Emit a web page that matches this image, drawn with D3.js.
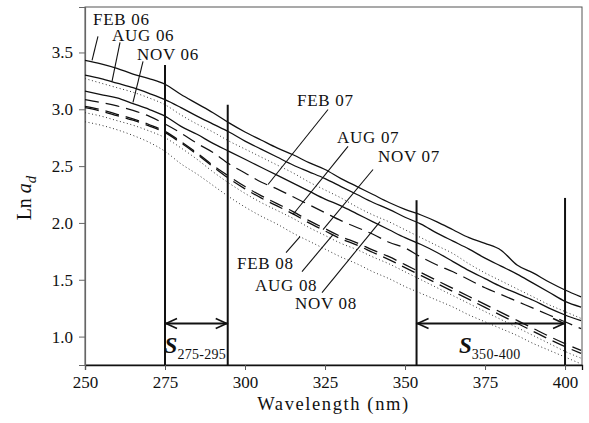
<!DOCTYPE html>
<html>
<head>
<meta charset="utf-8">
<script src="https://cdn.jsdelivr.net/npm/d3@7/dist/d3.min.js"></script>
<style>
  html, body { margin: 0; padding: 0; background: #fff; }
  svg { display: block; }
  svg text { font-family: "Liberation Serif", "DejaVu Serif", "Times New Roman", Times, serif; fill: #111; }
</style>
</head>
<body>
<svg id="chart" width="589" height="423"></svg>
<script>
// Wavelength grid (nm) shared by every spectrum
const wavelengths = [250,255,260,265,270,275,280,285,290,295,300,305,310,315,320,325,330,335,340,345,350,355,360,365,370,375,380,385,390,395,400,405];

// Ln a_d for each sampling campaign
const feb06 = [3.43,3.40,3.36,3.31,3.27,3.22,3.13,3.05,2.97,2.88,2.80,2.73,2.66,2.60,2.53,2.47,2.39,2.32,2.25,2.18,2.12,2.07,2.01,1.94,1.87,1.82,1.76,1.63,1.56,1.48,1.41,1.35];
const aug06 = [3.30,3.27,3.23,3.19,3.14,3.085,3.015,2.94,2.87,2.80,2.72,2.65,2.58,2.51,2.45,2.39,2.32,2.25,2.18,2.12,2.05,1.99,1.91,1.84,1.77,1.69,1.62,1.55,1.47,1.39,1.31,1.26];
const nov06 = [3.16,3.13,3.10,3.05,3.00,2.94,2.85,2.78,2.70,2.63,2.56,2.49,2.42,2.35,2.28,2.21,2.15,2.08,2.01,1.94,1.87,1.81,1.74,1.66,1.58,1.51,1.44,1.38,1.32,1.25,1.19,1.14];
const feb07 = [3.085,3.06,3.03,2.99,2.94,2.87,2.79,2.70,2.62,2.52,2.44,2.36,2.30,2.23,2.16,2.09,2.02,1.96,1.90,1.83,1.78,1.70,1.63,1.57,1.50,1.43,1.37,1.31,1.25,1.19,1.13,1.07];
const aug07 = [3.026,2.996,2.956,2.916,2.866,2.806,2.716,2.616,2.506,2.41,2.32,2.24,2.17,2.10,2.02,1.95,1.88,1.825,1.76,1.703,1.633,1.563,1.493,1.423,1.353,1.283,1.213,1.143,1.073,1.003,0.938,0.878];
const nov07 = [3.014,2.984,2.944,2.904,2.854,2.794,2.704,2.604,2.494,2.39,2.30,2.22,2.15,2.08,2.00,1.93,1.86,1.805,1.74,1.677,1.607,1.537,1.467,1.397,1.327,1.257,1.187,1.117,1.047,0.977,0.912,0.852];
const feb08 = [2.89,2.86,2.82,2.77,2.71,2.63,2.52,2.43,2.33,2.23,2.14,2.06,1.99,1.91,1.84,1.77,1.70,1.64,1.57,1.51,1.44,1.38,1.32,1.26,1.19,1.13,1.07,1.01,0.94,0.88,0.82,0.76];
const aug08 = [2.97,2.94,2.90,2.86,2.81,2.75,2.66,2.56,2.45,2.35,2.26,2.18,2.11,2.04,1.96,1.89,1.82,1.765,1.70,1.64,1.57,1.50,1.43,1.36,1.29,1.22,1.15,1.08,1.01,0.94,0.87,0.81];
const nov08 = [3.27,3.23,3.19,3.15,3.10,3.04,2.95,2.87,2.80,2.72,2.65,2.58,2.51,2.44,2.36,2.29,2.22,2.14,2.07,2.01,1.94,1.87,1.80,1.73,1.64,1.56,1.49,1.42,1.35,1.28,1.22,1.16];

// Axis ticks
const xTicks = [250,275,300,325,350,375,400];
const yTicks = [1.0,1.5,2.0,2.5,3.0,3.5];

// Spectral slope ranges (nm): start, end, top of each marker line
const slopeRanges = [
  {sub: "275-295", from: 275, to: 294.6, topFrom: 3.39, topTo: 3.04},
  {sub: "350-400", from: 353.6, to: 400, topFrom: 2.20, topTo: 2.22}
];
const arrowLevel = 1.115;

const series = [
  {name: "FEB 06", values: feb06, kind: "solid"},
  {name: "AUG 06", values: aug06, kind: "solid"},
  {name: "NOV 06", values: nov06, kind: "solid"},
  {name: "FEB 07", values: feb07, kind: "dash"},
  {name: "AUG 07", values: aug07, kind: "heavy"},
  {name: "NOV 07", values: nov07, kind: "heavy"},
  {name: "FEB 08", values: feb08, kind: "dot"},
  {name: "AUG 08", values: aug08, kind: "dot"},
  {name: "NOV 08", values: nov08, kind: "dot"}
];

// Label anchors and leader lines, in data units (nm, Ln a_d)
const callouts = [
  {name: "FEB 06", at: [252.5, 3.746], from: [254.06, 3.641], to: [252.19, 3.430]},
  {name: "AUG 06", at: [258.44, 3.597], from: [260.94, 3.588], to: [258.44, 3.245]},
  {name: "NOV 06", at: [266.25, 3.430], from: [268.13, 3.421], to: [265.0, 3.060]},
  {name: "FEB 07", at: [316.25, 3.033], from: [325.94, 2.998], to: [307.19, 2.338]},
  {name: "AUG 07", at: [328.75, 2.699], from: [332.19, 2.673], to: [315.0, 2.074]},
  {name: "NOV 07", at: [341.56, 2.532], from: [340.0, 2.470], to: [324.38, 1.942]},
  {name: "FEB 08", at: [297.5, 1.599], from: [312.81, 1.739], to: [317.19, 1.880]},
  {name: "AUG 08", at: [303.13, 1.405], from: [317.81, 1.572], to: [327.5, 1.898]},
  {name: "NOV 08", at: [315.63, 1.246], from: [324.06, 1.387], to: [342.19, 2.012]}
];

const styles = {
  solid: {width: 1.3, dash: null, color: "#111"},
  dash:  {width: 1.2, dash: "14,7", color: "#111"},
  heavy: {width: 1.3, dash: "14,7", color: "#111"},
  dot:   {width: 1.0, dash: "1,2.6", color: "#333"}
};

const serif = "Liberation Serif, DejaVu Serif, Times New Roman, serif";
const svg = d3.select("#chart");
const margin = {left: 85, right: 7, top: 7, bottom: 58};
const W = 589, H = 423;

const x = d3.scaleLinear().domain([250, 405.3]).range([margin.left, W - margin.right]);
const y = d3.scaleLinear().domain([0.75, 3.9]).range([H - margin.bottom, margin.top]);

// Frame
svg.append("rect")
  .attr("x", x.range()[0]).attr("y", y.range()[1])
  .attr("width", x.range()[1] - x.range()[0])
  .attr("height", y.range()[0] - y.range()[1])
  .attr("fill", "none").attr("stroke", "#555").attr("stroke-width", 1);

// Axes
const xAxis = svg.append("g")
  .attr("transform", `translate(0,${y.range()[0]})`)
  .call(d3.axisBottom(x).tickValues(xTicks).tickSize(5).tickPadding(6).tickFormat(d3.format("d")));
const yAxis = svg.append("g")
  .attr("transform", `translate(${x.range()[0]},0)`)
  .call(d3.axisLeft(y).tickValues(yTicks).tickSize(6).tickPadding(6).tickFormat(d3.format(".1f")));

xAxis.attr("font-family", serif);
yAxis.attr("font-family", serif);
xAxis.select(".domain").attr("stroke", "#111").attr("stroke-width", 1.3);
yAxis.select(".domain").attr("stroke", "#666").attr("stroke-width", 1.2);
xAxis.selectAll(".tick line").attr("stroke", "#555");
yAxis.selectAll(".tick line").attr("stroke", "#666");
svg.selectAll(".tick text")
  .attr("font-family", serif)
  .attr("font-size", 17).attr("fill", "#222");

// Axis titles
svg.append("text")
  .attr("x", (x.range()[0] + x.range()[1]) / 2)
  .attr("y", 410)
  .attr("text-anchor", "middle")
  .attr("font-family", serif)
  .attr("font-size", 18.5)
  .attr("letter-spacing", 1.6)
  .text("Wavelength (nm)");

const yTitle = svg.append("text")
  .attr("transform", `translate(31,${(y.range()[0] + y.range()[1]) / 2 + 12}) rotate(-90)`)
  .attr("text-anchor", "middle")
  .attr("font-family", serif)
  .attr("font-size", 20);
yTitle.append("tspan").text("Ln ");
yTitle.append("tspan").attr("font-style", "italic").text("a");
yTitle.append("tspan").attr("font-style", "italic").attr("font-size", 15).attr("dy", 5).text("d");

// Spectra
const line = d3.line()
  .x((d, i) => x(wavelengths[i]))
  .y(d => y(d))
  .curve(d3.curveMonotoneX);

const plot = svg.append("g");
plot.selectAll("path.spectrum")
  .data(series)
  .join("path")
  .attr("class", "spectrum")
  .attr("fill", "none")
  .attr("d", s => line(s.values))
  .attr("stroke", s => styles[s.kind].color)
  .attr("stroke-width", s => styles[s.kind].width)
  .attr("stroke-dasharray", s => styles[s.kind].dash);

// Leader lines and campaign labels
svg.append("g").selectAll("line")
  .data(callouts)
  .join("line")
  .attr("x1", c => x(c.from[0])).attr("y1", c => y(c.from[1]))
  .attr("x2", c => x(c.to[0])).attr("y2", c => y(c.to[1]))
  .attr("stroke", "#111").attr("stroke-width", 1.1);

svg.append("g").selectAll("text")
  .data(callouts)
  .join("text")
  .attr("x", c => x(c.at[0])).attr("y", c => y(c.at[1]))
  .attr("font-family", serif)
  .attr("font-size", 17)
  .attr("letter-spacing", 0.7)
  .text(c => c.name);

// Spectral slope range markers
const marks = svg.append("g");
slopeRanges.forEach(r => {
  const yb = y.range()[0];
  marks.append("line")
    .attr("x1", x(r.from)).attr("x2", x(r.from))
    .attr("y1", y(r.topFrom)).attr("y2", yb)
    .attr("stroke", "#111").attr("stroke-width", 2);
  marks.append("line")
    .attr("x1", x(r.to)).attr("x2", x(r.to))
    .attr("y1", y(r.topTo)).attr("y2", yb)
    .attr("stroke", "#111").attr("stroke-width", 2);

  const ya = y(arrowLevel);
  const xa = x(r.from), xb = x(r.to);
  marks.append("line")
    .attr("x1", xa).attr("x2", xb).attr("y1", ya).attr("y2", ya)
    .attr("stroke", "#111").attr("stroke-width", 2);
  const head = 12, half = 5;
  marks.append("path")
    .attr("d", `M${xa + head},${ya - half}L${xa + 1},${ya}L${xa + head},${ya + half}`)
    .attr("fill", "none").attr("stroke", "#111").attr("stroke-width", 1.6);
  marks.append("path")
    .attr("d", `M${xb - head},${ya - half}L${xb - 1},${ya}L${xb - head},${ya + half}`)
    .attr("fill", "none").attr("stroke", "#111").attr("stroke-width", 1.6);

  const lbl = marks.append("text")
    .attr("x", (xa + xb) / 2 - 1)
    .attr("y", 353)
    .attr("text-anchor", "middle")
    .attr("font-family", serif);
  lbl.append("tspan").attr("font-weight", "bold").attr("font-style", "italic")
    .attr("font-size", 23).text("S");
  lbl.append("tspan").attr("font-size", 14).attr("dy", 6).attr("letter-spacing", 0.3).text(r.sub);
});
</script>
</body>
</html>
